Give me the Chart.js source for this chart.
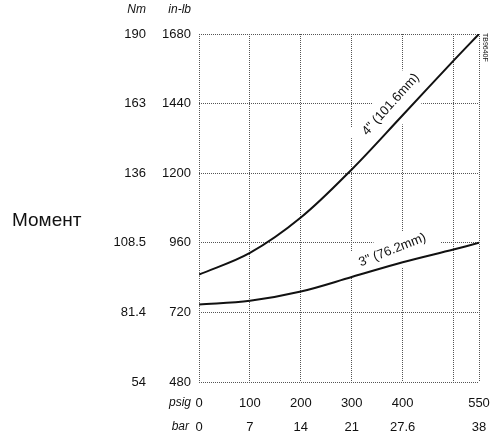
<!DOCTYPE html>
<html>
<head>
<meta charset="utf-8">
<script src="https://cdn.jsdelivr.net/npm/chart.js@4.4.1/dist/chart.umd.min.js"></script>
<style>
  body { margin: 0; background: #fff; }
  #wrap { width: 490px; height: 436px; }
</style>
</head>
<body>
<div id="wrap"><canvas id="myChart" width="490" height="436"></canvas></div>
<script>
// pressure axis
var psigTicks = [0, 100, 200, 300, 400, 500, 550];
var psigLabels = ['0', '100', '200', '300', '400', '', '550'];
var barLabels = ['0', '7', '14', '21', '27.6', '', '38'];

// torque axis
var inlbTicks = [480, 720, 960, 1200, 1440, 1680];
var nmLabels = ['54', '81.4', '108.5', '136', '163', '190'];

// torque readings, in-lb
var torque4in = [850, 925, 1047, 1213, 1400, 1588, 1680];
var torque3in = [747, 760, 792, 842, 893, 937, 960];

var font = 'Liberation Sans, Arial, sans-serif';
var gridColor = '#555';

function pts(vals) {
    return vals.map(function (v, i) { return { x: psigTicks[i], y: v }; });
}

// curve captions, anchored on the curve itself
var captions = [
    { text: '4" (101.6mm)', x: 400, y: 1400, angle: -48, off: 16 },
    { text: '3" (76.2mm)', x: 390, y: 890, angle: -21.5, off: 14 }
];

var textPlugin = {
    id: 'texts',
    beforeDatasetsDraw: function (chart) {
        var ctx = chart.ctx, sx = chart.scales.x, sy = chart.scales.y;
        ctx.save();
        ctx.font = '13px ' + font;
        captions.forEach(function (c) {
            var px = sx.getPixelForValue(c.x), py = sy.getPixelForValue(c.y);
            var w = ctx.measureText(c.text).width;
            ctx.save();
            ctx.translate(px, py);
            ctx.rotate(c.angle * Math.PI / 180);
            ctx.fillStyle = '#fff';
            ctx.fillRect(-w / 2 - 12, -c.off - 14, w + 24, c.off + 20);
            ctx.fillStyle = '#111';
            ctx.textAlign = 'center';
            ctx.textBaseline = 'middle';
            ctx.fillText(c.text, 0, -c.off);
            ctx.restore();
        });
        ctx.restore();
    },
    afterDraw: function (chart) {
        var ctx = chart.ctx;
        var inlb = chart.scales.y, nm = chart.scales.nm, sx = chart.scales.x;
        ctx.save();
        ctx.fillStyle = '#111';
        ctx.textBaseline = 'middle';
        ctx.textAlign = 'right';
        ctx.font = 'italic 12px ' + font;
        ctx.fillText('Nm', nm.right - 8, 10);
        ctx.fillText('in-lb', inlb.right - 8, 10);
        ctx.fillText('psig', inlb.right - 8, sx.top + 21);
        ctx.fillText('bar', inlb.right - 10, sx.top + 45);

        ctx.textAlign = 'left';
        ctx.font = '19px ' + font;
        ctx.fillText('Момент', 12, 221);

        ctx.font = '7px ' + font;
        ctx.translate(485, 33);
        ctx.rotate(Math.PI / 2);
        ctx.fillText('TB9640F', 0, 0);
        ctx.restore();
    }
};

var ctx = document.getElementById('myChart').getContext('2d');

var chart = new Chart(ctx, {
    type: 'line',
    data: {
        datasets: [
            { label: '4" (101.6mm)', data: pts(torque4in) },
            { label: '3" (76.2mm)', data: pts(torque3in) }
        ]
    },
    options: {
        responsive: false,
        animation: false,
        layout: { padding: { top: 34, right: 0, left: 0, bottom: 0 } },
        elements: {
            line: { borderColor: '#111', borderWidth: 2, tension: 0.35 },
            point: { radius: 0 }
        },
        plugins: {
            legend: { display: false },
            tooltip: { enabled: false }
        },
        scales: {
            x: {
                type: 'linear',
                min: 0,
                max: 550,
                afterBuildTicks: function (s) { s.ticks = psigTicks.map(function (v) { return { value: v }; }); },
                afterFit: function (s) { s.height = 54; s.paddingRight = 11; s.paddingLeft = 0; },
                grid: { color: gridColor, lineWidth: 1, drawTicks: false },
                border: { display: false, dash: [1, 1] },
                ticks: {
                    autoSkip: false,
                    maxRotation: 0,
                    padding: 9,
                    color: '#111',
                    font: { family: font, size: 13, lineHeight: 1.85 },
                    callback: function (v, i) { return [psigLabels[i], barLabels[i]]; }
                }
            },
            y: {
                position: 'left',
                weight: 0,
                min: 480,
                max: 1680,
                afterBuildTicks: function (s) { s.ticks = inlbTicks.map(function (v) { return { value: v }; }); },
                afterFit: function (s) { s.width = 45; },
                grid: { color: gridColor, lineWidth: 1, drawTicks: false },
                border: { display: false, dash: [1, 1] },
                ticks: {
                    padding: 8,
                    color: '#111',
                    font: { family: font, size: 13 },
                    callback: function (v, i) { return String(inlbTicks[i]); }
                }
            },
            nm: {
                position: 'left',
                weight: 10,
                min: 480,
                max: 1680,
                afterBuildTicks: function (s) { s.ticks = inlbTicks.map(function (v) { return { value: v }; }); },
                afterFit: function (s) { s.width = 154; },
                grid: { display: false, drawTicks: false },
                border: { display: false },
                ticks: {
                    padding: 8,
                    color: '#111',
                    font: { family: font, size: 13 },
                    callback: function (v, i) { return nmLabels[i]; }
                }
            }
        }
    },
    plugins: [textPlugin]
});
</script>
</body>
</html>
